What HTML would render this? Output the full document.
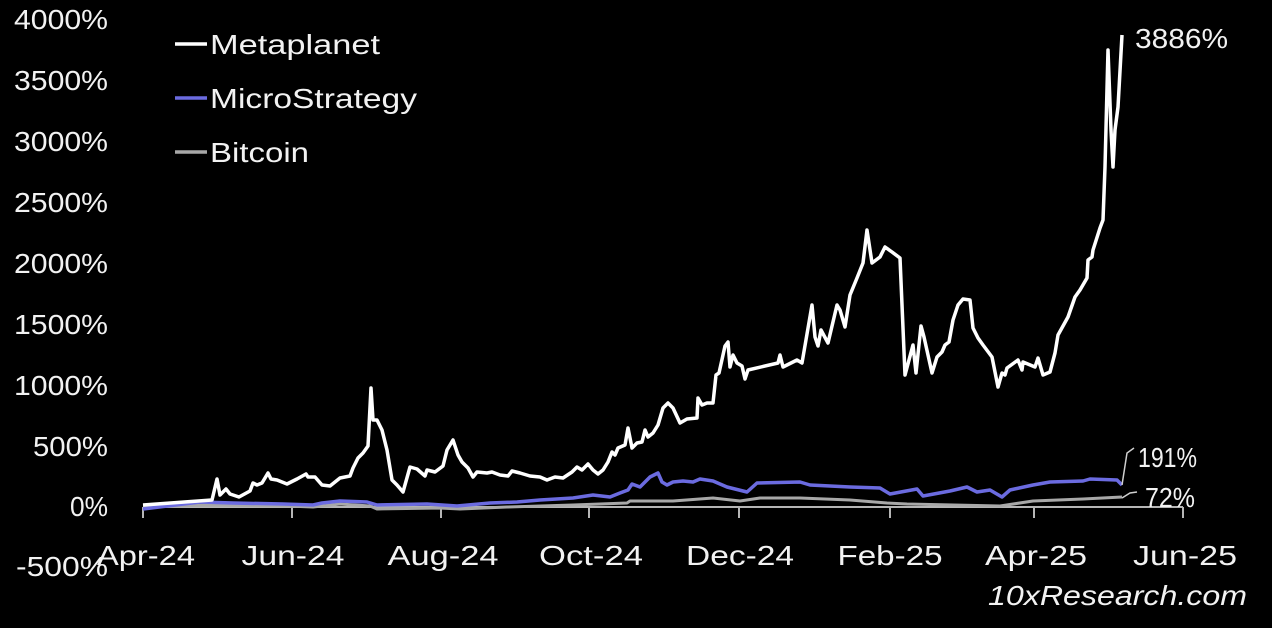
<!DOCTYPE html>
<html><head><meta charset="utf-8"><style>
html,body{margin:0;padding:0;background:#000;}
svg{display:block;}
text{font-family:"Liberation Sans","DejaVu Sans",sans-serif;fill:#f2f2f2;font-size:28px;}
</style></head><body>
<svg width="1272" height="628" viewBox="0 0 1272 628" xmlns="http://www.w3.org/2000/svg">
<rect width="1272" height="628" fill="#000"/>
<!-- Y labels -->
<g text-anchor="end">
<text x="108" y="29" textLength="94" lengthAdjust="spacingAndGlyphs">4000%</text>
<text x="108" y="90" textLength="94" lengthAdjust="spacingAndGlyphs">3500%</text>
<text x="108" y="151" textLength="94" lengthAdjust="spacingAndGlyphs">3000%</text>
<text x="108" y="212" textLength="94" lengthAdjust="spacingAndGlyphs">2500%</text>
<text x="108" y="273" textLength="94" lengthAdjust="spacingAndGlyphs">2000%</text>
<text x="108" y="334" textLength="94" lengthAdjust="spacingAndGlyphs">1500%</text>
<text x="108" y="395" textLength="94" lengthAdjust="spacingAndGlyphs">1000%</text>
<text x="108" y="456" textLength="75" lengthAdjust="spacingAndGlyphs">500%</text>
<text x="108" y="516" textLength="38" lengthAdjust="spacingAndGlyphs">0%</text>
<text x="108" y="576" textLength="92" lengthAdjust="spacingAndGlyphs">-500%</text>
</g>
<!-- axis -->
<g stroke="#b5b5b5" stroke-width="2" fill="none">
<line x1="143" y1="507" x2="1183" y2="507"/>
<line x1="143" y1="507" x2="143" y2="518"/>
<line x1="292" y1="507" x2="292" y2="518"/>
<line x1="441" y1="507" x2="441" y2="518"/>
<line x1="589" y1="507" x2="589" y2="518"/>
<line x1="739" y1="507" x2="739" y2="518"/>
<line x1="890" y1="507" x2="890" y2="518"/>
<line x1="1034" y1="507" x2="1034" y2="518"/>
<line x1="1183" y1="507" x2="1183" y2="518"/>
</g>
<!-- X labels -->
<g text-anchor="middle">
<text x="146" y="565" textLength="98" lengthAdjust="spacingAndGlyphs">Apr-24</text>
<text x="293" y="565" textLength="103" lengthAdjust="spacingAndGlyphs">Jun-24</text>
<text x="443" y="565" textLength="111" lengthAdjust="spacingAndGlyphs">Aug-24</text>
<text x="591" y="565" textLength="104" lengthAdjust="spacingAndGlyphs">Oct-24</text>
<text x="740" y="565" textLength="108" lengthAdjust="spacingAndGlyphs">Dec-24</text>
<text x="890" y="565" textLength="105" lengthAdjust="spacingAndGlyphs">Feb-25</text>
<text x="1036" y="565" textLength="102" lengthAdjust="spacingAndGlyphs">Apr-25</text>
<text x="1185" y="565" textLength="104" lengthAdjust="spacingAndGlyphs">Jun-25</text>
</g>
<!-- Bitcoin -->
<polyline fill="none" stroke="#a8a8a8" stroke-width="3" stroke-linejoin="round" points="143,507 207,505 287,506 313,507 340,504 370,506 377,509 440,508 460,509 507,507 573,505 627,503 630,501 673,501 713,498 740,501 760,498 800,498 850,500 887,503 907,504 1000,506 1033,501 1083,499 1122,497"/>
<!-- MicroStrategy -->
<polyline fill="none" stroke="#6b6be0" stroke-width="3.5" stroke-linejoin="round" points="143,509 200,502 233,503 283,504 313,505 322,503 340,501 367,502 377,505 427,504 457,506 490,503 517,502 540,500 573,498 593,495 610,497 620,493 628,490 632,484 640,487 650,477 658,473 662,482 667,485 673,482 683,481 693,482 700,479 713,481 727,487 747,492 757,483 800,482 810,485 850,487 880,488 890,494 917,489 923,496 950,491 967,487 977,492 990,490 1002,497 1010,490 1033,485 1050,482 1083,481 1090,479 1117,480 1122,485"/>
<!-- Metaplanet -->
<polyline fill="none" stroke="#ffffff" stroke-width="3.5" stroke-linejoin="round" points="143,505 212,500 217,479 220,495 226,489 230,494 239,497 250,491 253,483 257,485 262,483 268,473 271,479 277,480 287,484 297,479 306,474 308,477 315,477 322,485 330,486 340,478 350,476 353,468 358,458 363,453 368,446 371,388 373,420 377,420 382,430 387,450 392,480 397,485 403,492 410,467 417,469 425,476 427,470 435,472 443,466 447,450 453,440 458,455 462,462 468,468 473,477 477,472 487,473 492,472 500,475 508,476 512,471 520,473 530,476 540,477 547,480 555,477 563,478 572,472 577,467 582,470 588,464 593,470 598,474 603,470 608,462 612,452 615,455 618,448 625,445 628,428 632,448 637,443 642,442 645,430 648,437 653,433 658,425 663,408 668,403 673,408 680,423 687,419 697,418 698,398 702,405 707,403 713,403 716,375 719,373 725,346 728,342 730,367 733,355 737,363 742,366 745,379 748,370 778,363 780,355 783,367 797,360 802,363 812,305 815,337 818,346 821,330 828,343 837,305 840,310 845,327 850,295 857,278 863,263 867,230 872,263 880,257 885,247 892,252 900,258 905,375 909,360 913,345 916,373 921,326 924,337 932,373 937,357 942,352 945,345 949,342 953,320 958,305 963,299 970,300 973,328 978,338 983,345 992,357 998,387 1002,373 1005,375 1007,368 1018,360 1022,370 1023,362 1035,367 1038,358 1043,375 1050,372 1055,353 1058,335 1068,317 1075,297 1080,290 1087,278 1088,260 1092,257 1093,250 1100,228 1103,220 1105,167 1108,50 1111,130 1113,167 1115,130 1118,107 1122,35"/>
<!-- leader lines -->
<polyline fill="none" stroke="#cfcfcf" stroke-width="1.5" points="1122,485 1127,453 1134,448"/>
<polyline fill="none" stroke="#cfcfcf" stroke-width="1.5" points="1122,498 1130,493 1137,492"/>
<text x="1135" y="48" textLength="93" lengthAdjust="spacingAndGlyphs">3886%</text>
<text x="1138" y="467" textLength="59" lengthAdjust="spacingAndGlyphs">191%</text>
<text x="1145" y="507" textLength="50" lengthAdjust="spacingAndGlyphs">72%</text>
<!-- legend -->
<line x1="175" y1="44" x2="207" y2="44" stroke="#ffffff" stroke-width="3.5"/>
<text x="210" y="54" textLength="170" lengthAdjust="spacingAndGlyphs">Metaplanet</text>
<line x1="175" y1="98" x2="207" y2="98" stroke="#6b6be0" stroke-width="3.5"/>
<text x="210" y="108" textLength="207" lengthAdjust="spacingAndGlyphs">MicroStrategy</text>
<line x1="175" y1="152" x2="207" y2="152" stroke="#a8a8a8" stroke-width="3.5"/>
<text x="210" y="162" textLength="99" lengthAdjust="spacingAndGlyphs">Bitcoin</text>
<!-- watermark -->
<text x="988" y="605" font-style="italic" textLength="259" lengthAdjust="spacingAndGlyphs">10xResearch.com</text>
</svg>
</body></html>
